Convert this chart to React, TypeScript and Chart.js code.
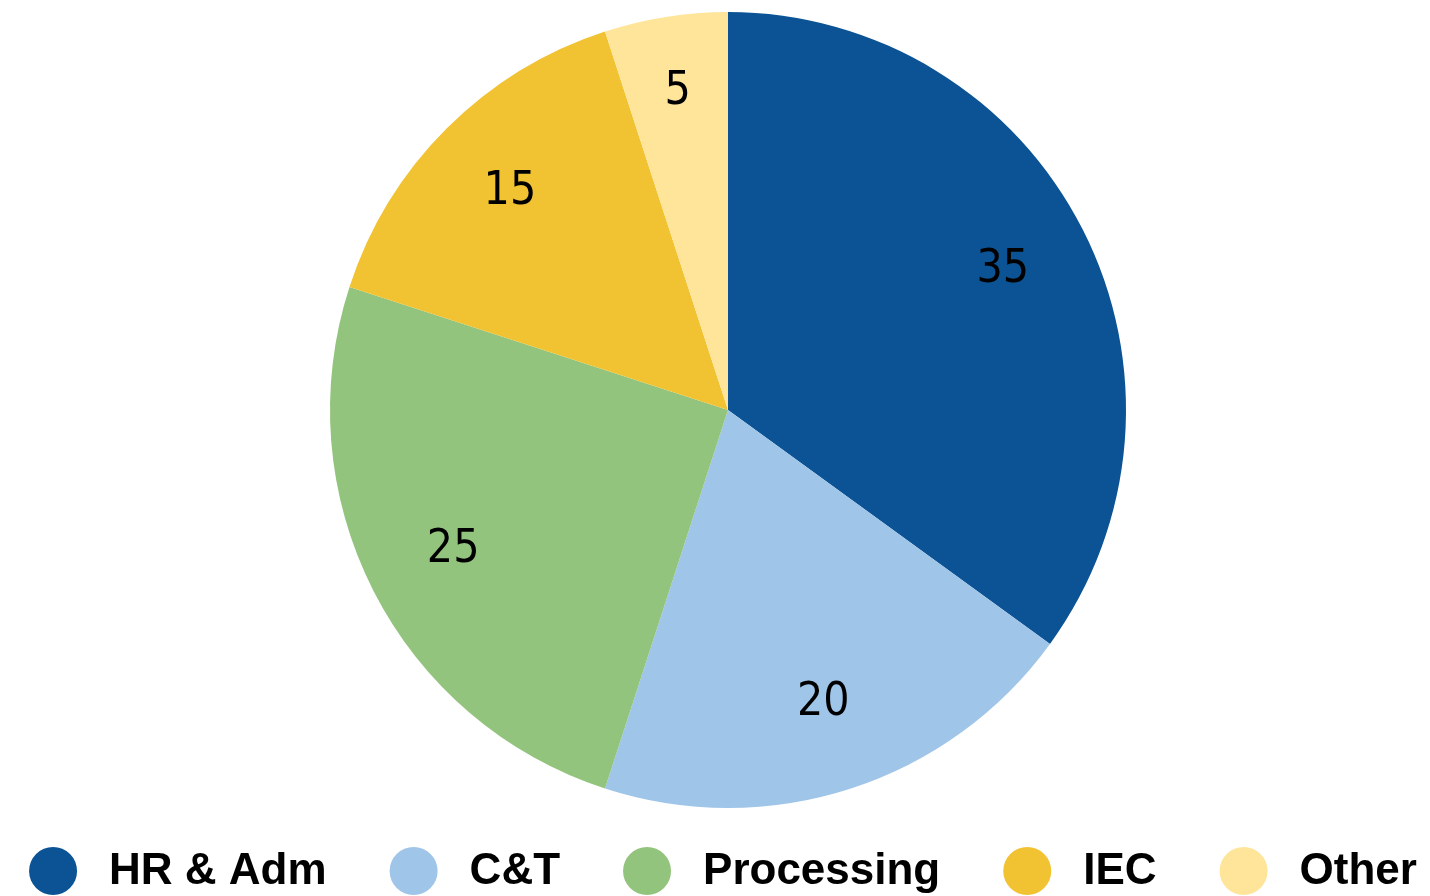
import React, { useEffect, useRef } from "react";
import { Chart, registerables } from "chart.js";

Chart.register(...registerables);

const categories = ["HR & Adm", "C&T", "Processing", "IEC", "Other"];
const values = [35, 20, 25, 15, 5];
const colors = ["#0b5394", "#9fc5e8", "#93c47d", "#f1c232", "#ffe599"];

const LEGEND_FONT = "bold 44px 'Liberation Sans', Arial, sans-serif";
const LEGEND_CENTER_X = 723;
const LEGEND_Y = 871;
const DOT_R = 24;
const DOT_TO_TEXT = 56;
const TEXT_TO_DOT = 87;

const sliceLabels = {
  id: "sliceLabels",
  afterDatasetsDraw(chart: any) {
    const ctx = chart.ctx;
    const meta = chart.getDatasetMeta(0);
    ctx.save();
    ctx.fillStyle = "#000";
    ctx.textAlign = "center";
    ctx.textBaseline = "middle";
    ctx.font = "46px 'Liberation Sans Narrow', 'DejaVu Sans Condensed', 'Liberation Sans', sans-serif";
    meta.data.forEach((arc: any, i: number) => {
      const p = arc.getProps(["x", "y", "startAngle", "endAngle", "outerRadius"], true);
      const mid = (p.startAngle + p.endAngle) / 2;
      const frac = values[i] < 8 ? 0.81 : 0.775;
      const r = p.outerRadius * frac;
      ctx.fillText(String(values[i]), p.x + Math.cos(mid) * r, p.y + Math.sin(mid) * r);
    });
    ctx.restore();
  },
};

const bottomLegend = {
  id: "bottomLegend",
  afterDraw(chart: any) {
    const ctx = chart.ctx;
    ctx.save();
    ctx.font = LEGEND_FONT;
    ctx.textBaseline = "middle";
    ctx.textAlign = "left";
    const widths = categories.map((c) => ctx.measureText(c).width);
    let total = DOT_R;
    widths.forEach((w, i) => {
      total += DOT_TO_TEXT + w + (i < widths.length - 1 ? TEXT_TO_DOT : 0);
    });
    let cx = LEGEND_CENTER_X - total / 2 + DOT_R;
    categories.forEach((c, i) => {
      ctx.fillStyle = colors[i];
      ctx.beginPath();
      ctx.arc(cx, LEGEND_Y, DOT_R, 0, Math.PI * 2);
      ctx.fill();
      ctx.fillStyle = "#000";
      const tx = cx + DOT_TO_TEXT;
      ctx.fillText(c, tx, LEGEND_Y + 1);
      cx = tx + widths[i] + TEXT_TO_DOT;
    });
    ctx.restore();
  },
};

export default function App() {
  const ref = useRef<HTMLCanvasElement>(null);
  useEffect(() => {
    if (!ref.current) return;
    const chart = new Chart(ref.current, {
      type: "pie",
      data: {
        labels: categories,
        datasets: [
          {
            data: values,
            backgroundColor: colors,
            borderWidth: 0,
          },
        ],
      },
      options: {
        animation: false,
        responsive: false,
        maintainAspectRatio: false,
        layout: { padding: { left: 26, right: 0, top: 12, bottom: 88 } },
        plugins: {
          tooltip: { enabled: false },
          legend: { display: false },
        },
      },
      plugins: [sliceLabels, bottomLegend],
    });
    return () => chart.destroy();
  }, []);
  return (
    <div style={{ position: "fixed", left: 0, top: 0, width: 1430, height: 896, background: "#fff" }}>
      <canvas ref={ref} width={1430} height={896} style={{ width: 1430, height: 896, display: "block" }} />
    </div>
  );
}
